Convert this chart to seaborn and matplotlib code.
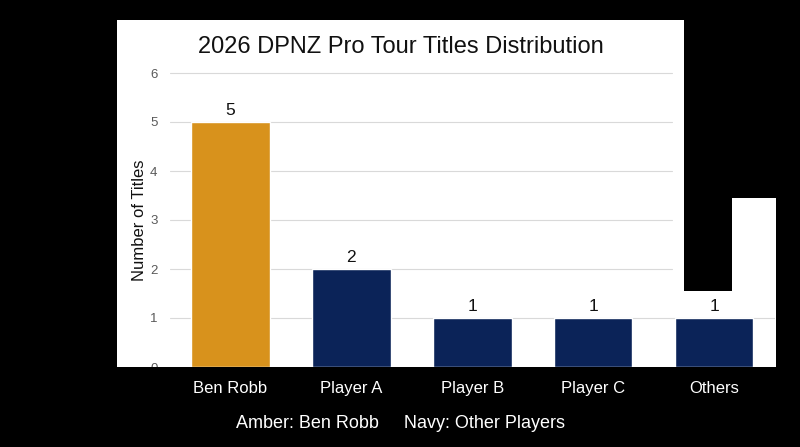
import matplotlib
matplotlib.use("Agg")
import matplotlib.pyplot as plt
import seaborn as sns
from matplotlib.patches import Polygon
from matplotlib.transforms import Bbox, TransformedBbox

players = ["Ben Robb", "Player A", "Player B", "Player C", "Others"]
titles = [5, 2, 1, 1, 1]
bar_colors = ["#D8921C", "#0B2358", "#0B2358", "#0B2358", "#0B2358"]
yticks = [0, 1, 2, 3, 4, 5, 6]

sns.set_style("white")
plt.rcParams["font.family"] = ["Liberation Sans", "DejaVu Sans"]

W, H = 800, 447
fig = plt.figure(figsize=(8, 4.47), dpi=100, facecolor="black")

# white chart panel (with the odd notch on the right), in pixel coords
px = [(117, 20), (684, 20), (684, 291), (732, 291), (732, 198),
      (776, 198), (776, 367), (117, 367)]
panel = Polygon([(x / W, 1 - y / H) for x, y in px], closed=True,
                transform=fig.transFigure, facecolor="white",
                edgecolor="none", zorder=-1)
fig.patches.append(panel)

ax = fig.add_axes([170 / W, 1 - 367 / H, 604.5 / W, 6.2 * 49 / H])
ax.set_facecolor("none")

sns.barplot(x=players, y=titles, hue=players, palette=bar_colors,
            legend=False, width=0.65, saturation=1, ax=ax, zorder=2)

ax.set_xlim(-0.5, 4.5)
ax.set_ylim(0, 6.2)
ax.set_yticks(yticks)

# gridlines (the upper ones stop short where the panel is cut)
for t in yticks[1:]:
    ax.axhline(t, xmin=0, xmax=1.0 if t == 1 else 0.83,
               color="#d9d9d9", lw=0.8, zorder=1)

for c in ax.containers:
    ax.bar_label(c, padding=3, fontsize=12.5, color="#111111")

for s in ax.spines.values():
    s.set_visible(False)
ax.tick_params(axis="both", length=0)
ax.tick_params(axis="y", labelsize=9.5, labelcolor="#595959", pad=9)
ax.tick_params(axis="x", labelsize=12, labelcolor="white", pad=10)

ax.set_xlabel("")
ax.set_ylabel("Number of Titles", fontsize=12, color="#111111")
ax.yaxis.set_label_coords(-0.038, 0.484)

# the "0" label is half hidden below the panel
clip = TransformedBbox(Bbox.from_extents(0, 1 - 367 / H, 1, 1), fig.transFigure)
lbl0 = ax.get_yticklabels()[0]
lbl0.set_clip_box(clip)
lbl0.set_clip_on(True)

ax.set_title("2026 DPNZ Pro Tour Titles Distribution", fontsize=17,
             color="#111111", x=0.382, pad=7)

fig.text(400.5 / W, 1 - 423 / H, "Amber: Ben Robb     Navy: Other Players",
         ha="center", va="center", color="white", fontsize=13)

fig.savefig("out.png", dpi=100, facecolor="black")
